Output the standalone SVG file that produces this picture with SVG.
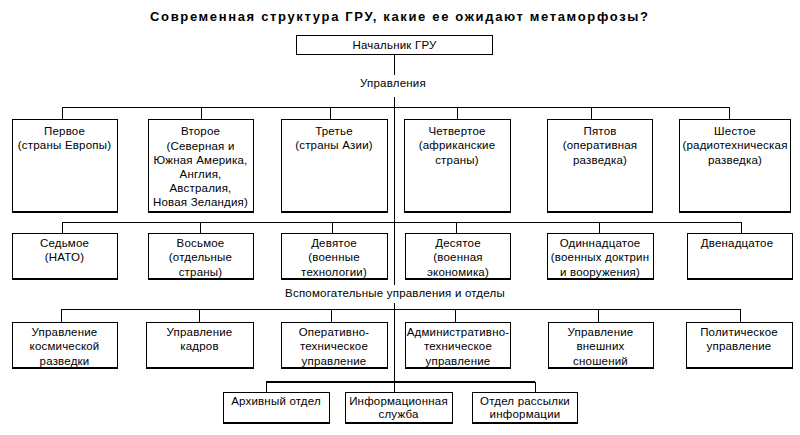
<svg xmlns="http://www.w3.org/2000/svg" width="800" height="435" viewBox="0 0 800 435">
<style>
text{font-family:"Liberation Sans",Arial,sans-serif;font-size:11.5px;fill:#000;text-anchor:middle;letter-spacing:0.2px}
.t{font-weight:bold;font-size:13px;letter-spacing:0}
.b{fill:#fff;stroke:#000;stroke-width:1}
.s{fill:#000}
.c{stroke:#000;stroke-width:1;fill:none}
.c2{stroke:#000;stroke-width:2;fill:none}
</style>
<rect width="800" height="435" fill="#fff"/>
<text class="t" x="399" y="21" textLength="498" lengthAdjust="spacing">Современная структура ГРУ, какие ее ожидают метаморфозы?</text>
<g id="connectors">
<path class="c" d="M394.5 55V75M394.5 97V285M394.5 303V392"/>
<path class="c" d="M62.5 107.5H729.5M62.5 107V119M201.5 107V119M330.5 107V119M457.5 107V119M591.5 107V119M729.5 107V119"/>
<path class="c" d="M62.5 222.5H741.5M62.5 222V233M200.5 222V233M332.5 222V233M456.5 222V233M599.5 222V233M741.5 222V233"/>
<path class="c" d="M61.5 309.5H740.5M61.5 309V322M199.5 309V322M331.5 309V322M455.5 309V322M598.5 309V322M740.5 309V322"/>
<path class="c2" d="M266 382H535"/>
<path class="c" d="M266.5 382V392M535.5 382V392"/>
</g>
<text x="393" y="87">Управления</text>
<text x="395" y="297">Вспомогательные управления и отделы</text>
<g id="chief"><rect class="b" x="296.5" y="35.5" width="196" height="19"/><text x="394.5" y="49">Начальник ГРУ</text></g>
<g id="u1"><rect class="s" x="12" y="120" width="106" height="93"/><rect class="b" x="12.5" y="119.5" width="105" height="92"/><text x="64.5" y="135">Первое</text><text x="64.5" y="149">(страны Европы)</text></g>
<g id="u2"><rect class="s" x="148" y="120" width="106" height="93"/><rect class="b" x="148.5" y="119.5" width="105" height="92"/><text x="200.5" y="135">Второе</text><text x="200.5" y="150">(Северная и</text><text x="200.5" y="164">Южная Америка,</text><text x="200.5" y="178">Англия,</text><text x="200.5" y="192">Австралия,</text><text x="200.5" y="206">Новая Зеландия)</text></g>
<g id="u3"><rect class="s" x="281" y="120" width="107" height="93"/><rect class="b" x="281.5" y="119.5" width="106" height="92"/><text x="334" y="135">Третье</text><text x="334" y="149">(страны Азии)</text></g>
<g id="u4"><rect class="s" x="404" y="120" width="107" height="93"/><rect class="b" x="404.5" y="119.5" width="106" height="92"/><text x="457" y="135">Четвертое</text><text x="457" y="149">(африканские</text><text x="457" y="164">страны)</text></g>
<g id="u5"><rect class="s" x="547" y="120" width="106" height="93"/><rect class="b" x="547.5" y="119.5" width="105" height="92"/><text x="600" y="135">Пятов</text><text x="600" y="149">(оперативная</text><text x="600" y="164">разведка)</text></g>
<g id="u6"><rect class="s" x="679" y="120" width="112" height="93"/><rect class="b" x="679.5" y="119.5" width="111" height="92"/><text x="735" y="135">Шестое</text><text x="735" y="149">(радиотехническая</text><text x="735" y="164">разведка)</text></g>
<g id="u7"><rect class="s" x="12" y="234" width="106" height="46"/><rect class="b" x="12.5" y="233.5" width="105" height="45"/><text x="64.5" y="247">Седьмое</text><text x="64.5" y="261">(НАТО)</text></g>
<g id="u8"><rect class="s" x="148" y="234" width="106" height="46"/><rect class="b" x="148.5" y="233.5" width="105" height="45"/><text x="200.5" y="247">Восьмое</text><text x="200.5" y="261">(отдельные</text><text x="200.5" y="276">страны)</text></g>
<g id="u9"><rect class="s" x="281" y="234" width="107" height="46"/><rect class="b" x="281.5" y="233.5" width="106" height="45"/><text x="334" y="247">Девятое</text><text x="334" y="261">(военные</text><text x="334" y="276">технологии)</text></g>
<g id="u10"><rect class="s" x="405" y="234" width="106" height="46"/><rect class="b" x="405.5" y="233.5" width="105" height="45"/><text x="458" y="247">Десятое</text><text x="458" y="261">(военная</text><text x="458" y="276">экономика)</text></g>
<g id="u11"><rect class="s" x="547" y="234" width="107" height="46"/><rect class="b" x="547.5" y="233.5" width="106" height="45"/><text x="600" y="247">Одиннадцатое</text><text x="600" y="261">(военных доктрин</text><text x="600" y="276">и вооружения)</text></g>
<g id="u12"><rect class="s" x="687" y="234" width="106" height="46"/><rect class="b" x="687.5" y="233.5" width="105" height="45"/><text x="737" y="247">Двенадцатое</text></g>
<g id="a1"><rect class="s" x="12" y="323" width="106" height="46"/><rect class="b" x="12.5" y="322.5" width="105" height="45"/><text x="64.5" y="336">Управление</text><text x="64.5" y="350">космической</text><text x="64.5" y="365">разведки</text></g>
<g id="a2"><rect class="s" x="146" y="323" width="108" height="46"/><rect class="b" x="146.5" y="322.5" width="107" height="45"/><text x="199.5" y="336">Управление</text><text x="199.5" y="350">кадров</text></g>
<g id="a3"><rect class="s" x="281" y="323" width="107" height="46"/><rect class="b" x="281.5" y="322.5" width="106" height="45"/><text x="334" y="336">Оперативно-</text><text x="334" y="350">техническое</text><text x="334" y="365">управление</text></g>
<g id="a4"><rect class="s" x="405" y="323" width="106" height="46"/><rect class="b" x="405.5" y="322.5" width="105" height="45"/><text x="458" y="336">Административно-</text><text x="458" y="350">техническое</text><text x="458" y="365">управление</text></g>
<g id="a5"><rect class="s" x="548" y="323" width="106" height="46"/><rect class="b" x="548.5" y="322.5" width="105" height="45"/><text x="600.5" y="336">Управление</text><text x="600.5" y="350">внешних</text><text x="600.5" y="365">сношений</text></g>
<g id="a6"><rect class="s" x="686" y="323" width="107" height="46"/><rect class="b" x="686.5" y="322.5" width="106" height="45"/><text x="739" y="336">Политическое</text><text x="739" y="350">управление</text></g>
<g id="d1"><rect class="s" x="223" y="393" width="107" height="31"/><rect class="b" x="223.5" y="392.5" width="106" height="30"/><text x="276" y="405">Архивный отдел</text></g>
<g id="d2"><rect class="s" x="345" y="393" width="108" height="31"/><rect class="b" x="345.5" y="392.5" width="107" height="30"/><text x="398.5" y="405">Информационная</text><text x="398.5" y="418">служба</text></g>
<g id="d3"><rect class="s" x="472" y="393" width="106" height="31"/><rect class="b" x="472.5" y="392.5" width="105" height="30"/><text x="525" y="405">Отдел рассылки</text><text x="525" y="418">информации</text></g>
</svg>
